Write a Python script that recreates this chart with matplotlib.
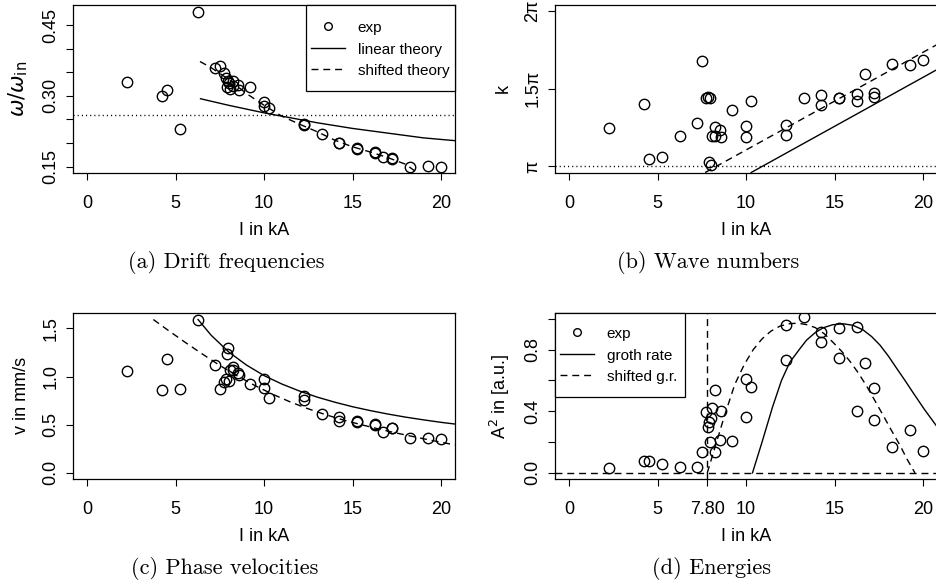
import matplotlib
matplotlib.use('Agg')
import matplotlib.pyplot as plt
from matplotlib.lines import Line2D
from matplotlib.patches import Rectangle

# measured discharge currents (kA), same shots in all four panels
current = [2.26, 4.24, 4.5, 5.25, 6.26, 7.22, 7.5, 7.72, 7.83, 7.89, 7.94, 8.02,
           8.09, 8.23, 8.23, 8.53, 8.6, 9.22, 10.0, 10.0, 10.27, 12.25, 12.25,
           13.25, 14.25, 14.25, 15.25, 15.25, 16.25, 16.25, 16.74, 17.25, 17.25,
           18.27, 19.25, 20.0]
omega_ratio = [0.329, 0.299, 0.312, 0.230, 0.478, 0.360, 0.363, 0.349, 0.338, 0.319,
               0.332, 0.327, 0.315, 0.331, 0.320, 0.324, 0.312, 0.319, 0.288, 0.279,
               0.274, 0.240, 0.238, 0.219, 0.201, 0.199, 0.190, 0.188, 0.181, 0.179,
               0.171, 0.169, 0.167, 0.150, 0.151, 0.150]
k_over_pi = [1.246, 1.40, 1.05, 1.061, 1.198, 1.28, 1.68, 1.44, 1.445, 1.028, 1.44,
             1.007, 1.198, 1.252, 1.198, 1.235, 1.19, 1.367, 1.26, 1.19, 1.42, 1.265,
             1.20, 1.44, 1.463, 1.396, 1.443, 1.438, 1.467, 1.42, 1.593, 1.474, 1.446,
             1.659, 1.652, 1.683]
velocity = [1.055, 0.859, 1.179, 0.866, 1.593, 1.124, 0.869, 0.945, 0.979, 1.238,
            1.297, 0.955, 1.066, 1.10, 1.066, 1.041, 1.021, 0.928, 0.979, 0.883,
            0.779, 0.80, 0.755, 0.607, 0.579, 0.541, 0.535, 0.527, 0.51, 0.495,
            0.428, 0.47, 0.462, 0.366, 0.366, 0.355]
energy = [0.030, 0.080, 0.077, 0.056, 0.037, 0.039, 0.138, 0.394, 0.297, 0.329,
          0.20, 0.359, 0.419, 0.535, 0.138, 0.213, 0.40, 0.206, 0.609, 0.363, 0.557,
          0.961, 0.735, 1.015, 0.916, 0.847, 0.94, 0.746, 0.948, 0.40, 0.716, 0.553,
          0.346, 0.166, 0.275, 0.142]

# theory curves
lin_omega_I = [6.4, 8, 9, 10, 11, 12, 13, 14, 15, 16, 17, 18, 19, 20.8]
lin_omega = [0.294, 0.280, 0.272, 0.264, 0.257, 0.250, 0.243, 0.237, 0.231, 0.226,
             0.221, 0.216, 0.211, 0.205]
shift_omega_I = [6.37, 7, 8, 9, 10, 11, 12, 13, 14, 15, 16, 17, 18, 18.7]
shift_omega = [0.373, 0.360, 0.335, 0.305, 0.280, 0.257, 0.240, 0.224, 0.206, 0.192,
               0.181, 0.169, 0.155, 0.136]

lin_k_I = [10.28, 20.8]
lin_k = [0.961, 1.624]
shift_k_I = [7.68, 20.8]
shift_k = [0.961, 1.785]

lin_v_I = [6.26, 7, 8, 9, 10, 11, 12, 13, 14, 15, 16, 17, 18, 19, 20, 20.8]
lin_v = [1.593, 1.43, 1.255, 1.12, 1.01, 0.923, 0.85, 0.787, 0.734, 0.687, 0.647,
         0.611, 0.579, 0.551, 0.525, 0.507]
shift_v_I = [3.73, 4.5, 5.5, 6.5, 7.5, 8.5, 9.5, 10.5, 11.5, 12.5, 13.5, 14.5, 15.5,
             16.5, 17.5, 18.5, 19.5, 20.8]
shift_v = [1.593, 1.49, 1.36, 1.235, 1.115, 1.005, 0.905, 0.815, 0.735, 0.665, 0.603,
           0.548, 0.50, 0.455, 0.413, 0.374, 0.336, 0.29]

growth_I = [10.36, 10.9, 11.5, 12.0, 12.47, 13.0, 13.42, 13.9, 14.36, 14.9, 15.49,
            16.05, 16.62, 17.1, 17.57, 18.05, 18.51, 19.0, 19.45, 20.1, 20.8]
growth = [0.0, 0.2, 0.43, 0.60, 0.718, 0.80, 0.862, 0.91, 0.942, 0.962, 0.968, 0.958,
          0.928, 0.885, 0.83, 0.758, 0.68, 0.598, 0.52, 0.41, 0.30]
shift_growth_I = [7.8, 8.3, 8.8, 9.36, 9.9, 10.4, 10.9, 11.4, 11.9, 12.4, 12.9, 13.4,
                  13.9, 14.4, 14.92, 15.4, 15.87, 16.34, 16.81, 17.28, 17.75, 18.2,
                  18.7, 19.1, 19.55]
shift_growth = [0.0, 0.19, 0.38, 0.575, 0.705, 0.80, 0.87, 0.92, 0.952, 0.968, 0.972,
                0.963, 0.944, 0.905, 0.847, 0.79, 0.725, 0.65, 0.565, 0.47, 0.374,
                0.28, 0.18, 0.09, 0.0]

omega_ref = 0.259
onset_current = 7.8

plt.rcParams['font.family'] = ['Liberation Sans', 'DejaVu Sans']
plt.rcParams['mathtext.fontset'] = 'dejavusans'
plt.rcParams['lines.scale_dashes'] = False

DASH = (0, (5, 3.5))
DOT = (0, (0.8, 2.2))
LW = 1.0
MS = 7.5

W, H = 936, 586
fig = plt.figure(figsize=(W / 100, H / 100), dpi=100)


def make_axes(left, top, right, bottom):
    return fig.add_axes([left / W, 1 - bottom / H, (right - left) / W, (bottom - top) / H])


def style(ax, ylim, yticks, ylabels, ylabel, xticks=(0, 5, 10, 15, 20), xlabels=None,
          ylabel_size=13):
    ax.set_xlim(-0.8, 20.8)
    ax.set_ylim(*ylim)
    ax.set_xticks(xticks, xlabels if xlabels else [str(t) for t in xticks])
    ax.set_yticks(yticks, ylabels)
    for s in ax.spines.values():
        s.set_linewidth(0.9)
    ax.tick_params(direction='out', length=5, width=0.8, labelsize=13)
    ax.tick_params(axis='x', pad=11)
    ax.tick_params(axis='y', pad=5, labelrotation=90)
    for lbl in ax.get_yticklabels():
        lbl.set_va('center')
    ax.set_xlabel('I in kA', fontsize=13, labelpad=7)
    ax.set_ylabel(ylabel, fontsize=ylabel_size, labelpad=9)


def scatter(ax, y):
    ax.plot(current, y, 'o', mfc='none', mec='black', mew=LW, ms=MS)


def legend_box(ax, labels, box, first_row):
    # box = (left, top, right, bottom) in figure pixels, first_row = (x, y) of handle start
    l, t, r, b = box
    ax.add_patch(Rectangle((l / W, 1 - b / H), (r - l) / W, (b - t) / H,
                           transform=fig.transFigure, facecolor='white',
                           edgecolor='black', lw=0.9, zorder=4, clip_on=False))
    handles = [Line2D([], [], marker='o', ls='none', mfc='none', mec='black', mew=LW, ms=5.5),
               Line2D([], [], color='black', lw=LW),
               Line2D([], [], color='black', lw=LW, ls=DASH)]
    leg = ax.legend(handles, labels, loc='upper left',
                    bbox_to_anchor=(first_row[0] / W, 1 - first_row[1] / H),
                    bbox_transform=fig.transFigure, fontsize=11, frameon=False,
                    borderpad=0, borderaxespad=0, handlelength=2.2, handleheight=1.0,
                    labelspacing=0.42, handletextpad=0.85)
    leg.set_zorder(5)


# (a) drift frequencies
ax = make_axes(73.3, 5, 455, 172.7)
scatter(ax, omega_ratio)
ax.plot(lin_omega_I, lin_omega, color='black', lw=LW)
ax.plot(shift_omega_I, shift_omega, color='black', lw=LW, ls=DASH)
ax.axhline(omega_ref, color='black', lw=LW, ls=DOT)
style(ax, (0.137, 0.493), [0.15, 0.2, 0.25, 0.3, 0.35, 0.4, 0.45],
      ['0.15', '', '', '0.30', '', '', '0.45'], r'$\omega/\omega_{\mathrm{in}}$',
      ylabel_size=15)
legend_box(ax, ['exp', 'linear theory', 'shifted theory'], (306, 5, 455, 91), (311, 20))

# (b) wave numbers
ax = make_axes(555.3, 5, 937, 172.7)
scatter(ax, k_over_pi)
ax.plot(lin_k_I, lin_k, color='black', lw=LW)
ax.plot(shift_k_I, shift_k, color='black', lw=LW, ls=DASH)
ax.axhline(1.0, color='black', lw=LW, ls=DOT)
style(ax, (0.96, 2.04), [1.0, 1.5, 2.0], ['π', '1.5π', '2π'], 'k')

# (c) phase velocities
ax = make_axes(73.3, 312.7, 455, 479)
scatter(ax, velocity)
ax.plot(lin_v_I, lin_v, color='black', lw=LW)
ax.plot(shift_v_I, shift_v, color='black', lw=LW, ls=DASH)
style(ax, (-0.064, 1.664), [0.0, 0.5, 1.0, 1.5], ['0.0', '0.5', '1.0', '1.5'],
      'v in mm/s')

# (d) energies
ax = make_axes(555.3, 312.7, 937, 479)
scatter(ax, energy)
ax.plot(growth_I, growth, color='black', lw=LW)
ax.plot(shift_growth_I, shift_growth, color='black', lw=LW, ls=DASH)
ax.axhline(0.0, color='black', lw=LW, ls=DASH)
ax.axvline(onset_current, color='black', lw=LW, ls=DASH)
style(ax, (-0.04, 1.04), [0.0, 0.2, 0.4, 0.6, 0.8, 1.0],
      ['0.0', '', '0.4', '', '0.8', ''], r'A$^2$ in [a.u.]',
      xticks=(0, 5, onset_current, 10, 15, 20), xlabels=['0', '5', '7.80', '10', '15', '20'])
legend_box(ax, ['exp', 'groth rate', 'shifted g.r.'], (555.3, 312.7, 685, 397), (560, 326))

caps = [(226.5, 262, '(a) Drift frequencies'), (708, 262, '(b) Wave numbers'),
        (225, 568, '(c) Phase velocities'), (711, 568, '(d) Energies')]
for cx, cy, txt in caps:
    fig.text(cx / W, 1 - cy / H, txt, family='cmr10', fontsize=16, ha='center', va='center')

fig.savefig('out.png', dpi=100)
